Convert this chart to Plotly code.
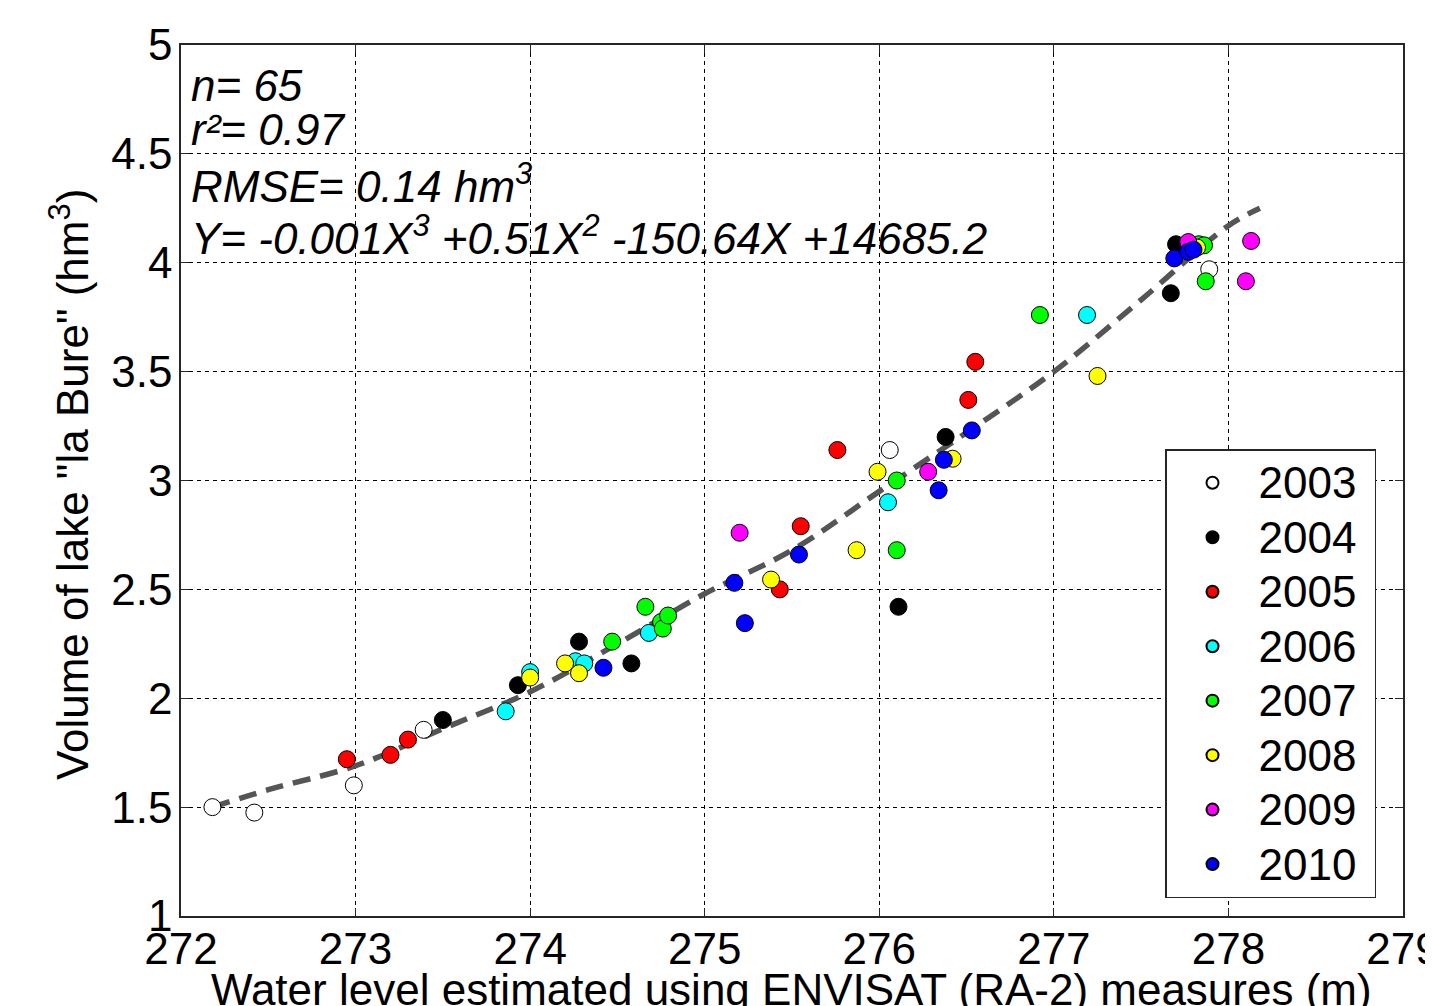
import plotly.graph_objects as go

# ---- data ----
years = ["2003", "2004", "2005", "2006", "2007", "2008", "2009", "2010"]
colors = ["#FFFFFF", "#000000", "#FF0000", "#00FFFF", "#00FF00", "#FFFF00", "#FF00FF", "#0000FF"]

x_2003 = [272.18, 272.42, 272.99, 273.39, 276.06, 277.89]
y_2003 = [1.50, 1.475, 1.60, 1.855, 3.14, 3.97]
x_2004 = [273.50, 273.93, 274.28, 274.58, 276.11, 276.38, 277.67, 277.70, 277.74]
y_2004 = [1.90, 2.06, 2.26, 2.16, 2.42, 3.20, 3.86, 4.085, 4.075]
x_2005 = [272.95, 273.20, 273.30, 275.43, 275.55, 275.76, 276.51, 276.55]
y_2005 = [1.72, 1.74, 1.81, 2.50, 2.79, 3.14, 3.37, 3.545]
x_2006 = [273.86, 274.00, 274.26, 274.31, 274.68, 276.05, 277.19]
y_2006 = [1.94, 2.12, 2.17, 2.16, 2.30, 2.90, 3.76]
x_2007 = [274.47, 274.66, 274.75, 274.76, 274.79, 276.10, 276.10, 276.92, 277.83, 277.86, 277.87]
y_2007 = [2.26, 2.42, 2.35, 2.32, 2.38, 3.00, 2.68, 3.76, 4.085, 4.08, 3.915]
x_2008 = [274.00, 274.20, 274.28, 275.38, 275.87, 275.99, 276.42, 277.25, 277.82]
y_2008 = [2.095, 2.16, 2.115, 2.545, 2.68, 3.04, 3.10, 3.48, 4.07]
x_2009 = [275.20, 276.28, 277.77, 278.10, 278.13]
y_2009 = [2.76, 3.04, 4.095, 3.915, 4.10]
x_2010 = [274.42, 275.17, 275.23, 275.54, 276.34, 276.37, 276.53, 277.69, 277.77, 277.80]
y_2010 = [2.14, 2.53, 2.345, 2.66, 2.955, 3.095, 3.23, 4.02, 4.05, 4.06]

fit_x = [272.18, 272.5, 273.0, 273.5, 274.0, 274.5, 275.0, 275.5, 276.0, 276.5, 277.0, 277.5, 278.0, 278.18]
fit_y = [1.50, 1.58, 1.69, 1.86, 2.03, 2.25, 2.48, 2.68, 2.95, 3.22, 3.50, 3.83, 4.17, 4.25]

x_ticks = [272, 273, 274, 275, 276, 277, 278, 279]
y_ticks = [1, 1.5, 2, 2.5, 3, 3.5, 4, 4.5, 5]

series_x = [x_2003, x_2004, x_2005, x_2006, x_2007, x_2008, x_2009, x_2010]
series_y = [y_2003, y_2004, y_2005, y_2006, y_2007, y_2008, y_2009, y_2010]

FONT = "Liberation Sans, Arial, sans-serif"

fig = go.Figure()
fig.add_trace(go.Scatter(
    x=fit_x, y=fit_y, mode="lines", showlegend=False,
    line=dict(color="#555555", width=5.5, dash="18px,10px", shape="spline"),
    hoverinfo="skip"))

for yr, col, xs, ys in zip(years, colors, series_x, series_y):
    fig.add_trace(go.Scatter(
        x=xs, y=ys, mode="markers",
        name='<span style="font-size:44px">' + yr + "\u00a0</span>",
        marker=dict(size=17, color=col, line=dict(color="#000000", width=1))))

axis_common = dict(
    showline=True, linecolor="#262626", linewidth=1.5, mirror="allticks",
    ticks="inside", ticklen=8, tickcolor="#262626", tickwidth=1,
    showgrid=True, gridcolor="#000000", gridwidth=1, griddash="4px,4px",
    zeroline=False, tickfont=dict(family=FONT, size=44, color="#000000"),
    ticklabeloverflow="allow", automargin=False,
)

fig.update_xaxes(range=[272, 279], tickvals=x_ticks, ticktext=[str(v) for v in x_ticks],
                 ticklabelstandoff=-7, **axis_common)
fig.update_yaxes(range=[1, 5], tickvals=y_ticks, ticktext=[f"{v:g}" for v in y_ticks],
                 ticklabelstandoff=-2, **axis_common)

# plot area in page pixels: x 181..1403, y 45..916 (page has an 8px body margin)
H0, PH = 916, 871
def yp(py):
    return (H0 - py) / PH
def xp(px):
    return (px - 181) / 1222

ann_font = dict(family=FONT, size=44, color="#000000")
stats = [
    ("<i>n= 65</i>", 85),
    ("<i>r²= 0.97</i>", 130),
    ("<i>RMSE= 0.14 hm<sup>3</sup></i>", 183),
    ("<i>Y= -0.001X<sup>3</sup> +0.51X<sup>2</sup> -150.64X +14685.2</i>", 236),
]
annotations = []
for txt, py in stats:
    annotations.append(dict(text=txt, xref="paper", yref="paper", x=xp(189), y=yp(py),
                            xanchor="left", yanchor="middle", showarrow=False, font=ann_font))

annotations.append(dict(text="Water level estimated using ENVISAT (RA-2) measures (m)",
                        xref="paper", yref="paper", x=xp(791), y=yp(990),
                        xanchor="center", yanchor="middle", showarrow=False, font=ann_font))
annotations.append(dict(text='Volume of lake "la Bure" (hm<sup>3</sup>)',
                        xref="paper", yref="paper", x=xp(70), y=yp(485), textangle=-90,
                        xanchor="center", yanchor="middle", showarrow=False, font=ann_font))

fig.update_layout(
    width=1433, height=1006,
    margin=dict(l=173, r=38, t=37, b=98, autoexpand=False),
    paper_bgcolor="#FFFFFF", plot_bgcolor="#FFFFFF",
    font=dict(family=FONT, size=44, color="#000000"),
    annotations=annotations,
    legend=dict(x=xp(1165), y=yp(449), xanchor="left", yanchor="top",
                bgcolor="#FFFFFF", bordercolor="#262626", borderwidth=1.5,
                font=dict(family=FONT, size=39.6, color="#000000"),
                itemsizing="constant", itemwidth=82, tracegroupgap=0),
    showlegend=True,
)

fig.write_html("out.html")
